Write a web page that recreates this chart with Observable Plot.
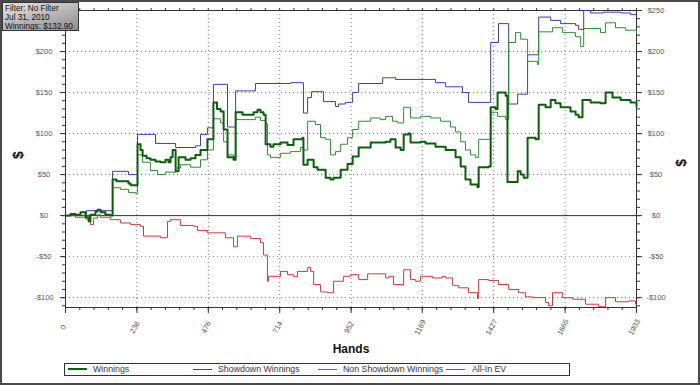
<!DOCTYPE html>
<html><head><meta charset="utf-8">
<script src="https://cdn.jsdelivr.net/npm/d3@7"></script>
<script src="https://cdn.jsdelivr.net/npm/@observablehq/plot@0.6"></script>
<style>
body{margin:0;background:#fff;}
#wrap{position:relative;width:700px;height:385px;overflow:hidden;font-family:"Liberation Sans",Arial,sans-serif;background:#fff;}
#wrap svg{position:absolute;left:0;top:0;}
#border{position:absolute;left:0;top:0;width:700px;height:385px;box-sizing:border-box;border:2px solid #4a4a4a;pointer-events:none;}
#info{position:absolute;left:2px;top:2px;width:77px;height:29px;box-sizing:border-box;border:1px solid #333;background:linear-gradient(165deg,#e6e6e6 0%,#b8b8b8 50%,#8c8c8c 100%);font-size:8.2px;line-height:9px;color:#111;padding:1px 0 0 2px;white-space:nowrap;overflow:hidden;}
#legend{position:absolute;left:64px;top:363px;width:506px;height:13px;box-sizing:border-box;border:1px solid #333;background:#fff;}
.item{position:absolute;top:0;height:11px;line-height:11px;font-size:8.8px;color:#333;white-space:nowrap;}
.sw{position:absolute;top:5px;width:19px;height:0;}
</style>
</head><body>
<div id="wrap"></div>
<script>
// ---- data (hands, $) ----
const xTickLabels = [0, 238, 476, 714, 952, 1189, 1427, 1665, 1903];
const yTickValues = [-100, -50, 0, 50, 100, 150, 200, 250];
const seriesNames = ["Winnings", "Showdown Winnings", "Non Showdown Winnings", "All-In EV"];
const seriesColors = ["#0b5e0b", "#3c3caa", "#cc3a3a", "#2f8a2f"];

const winHands = [0,17,33,50,67,77,83,100,107,117,133,150,157,170,183,210,217,240,250,257,270,283,300,317,333,343,350,357,367,377,400,417,433,450,473,493,505,517,527,540,560,567,590,627,640,650,660,667,683,693,717,740,760,790,793,807,827,840,867,883,893,917,940,957,977,1017,1067,1083,1100,1117,1127,1143,1150,1183,1200,1233,1267,1300,1317,1333,1350,1373,1377,1410,1417,1433,1440,1467,1473,1500,1507,1517,1527,1540,1567,1577,1600,1617,1633,1650,1683,1700,1710,1723,1750,1783,1800,1823,1850,1883,1903];
const winValues = [0,2,1,4,-2,-7,1,5,7,4,1,0,44,42,42,39,37,87,80,73,70,68,66,65,68,65,71,80,54,71,68,70,74,80,93,138,130,127,105,71,68,126,123,126,129,126,123,87,84,87,89,86,93,95,62,68,59,56,46,44,46,56,63,72,83,89,90,93,83,80,99,100,89,90,88,84,80,71,60,44,38,35,59,60,132,130,150,146,41,41,54,50,46,95,93,135,132,141,137,132,127,123,120,141,138,137,150,144,141,138,133];

const sdHands = [0,70,157,210,240,300,367,433,450,473,493,540,567,633,750,793,807,820,860,900,910,933,957,977,1057,1100,1233,1267,1323,1343,1417,1443,1477,1507,1540,1577,1617,1650,1700,1710,1727,1750,1793,1850,1883,1903];
const sdValues = [0,6,54,50,99,88,83,85,99,107,160,108,152,161,162,125,144,151,139,133,136,138,150,161,168,166,162,157,150,138,211,234,136,148,196,242,238,234,232,227,250,247,248,247,245,245];

const nsdHands = [0,33,67,83,93,107,117,150,183,217,250,260,317,340,350,383,427,440,473,507,533,560,573,617,650,660,673,677,717,740,760,773,807,817,827,850,873,893,927,950,977,1007,1067,1077,1093,1123,1127,1143,1150,1167,1183,1223,1257,1267,1290,1310,1343,1373,1377,1410,1443,1477,1510,1533,1557,1600,1610,1623,1657,1690,1733,1777,1793,1800,1833,1877,1900,1903];
const nsdValues = [0,-2,-4,-11,-3,1,-2,-5,-9,-11,-13,-25,-27,-7,-5,-12,-13,-18,-21,-21,-27,-38,-25,-28,-33,-48,-80,-74,-68,-72,-74,-68,-63,-68,-84,-93,-94,-80,-74,-72,-78,-71,-76,-74,-84,-85,-66,-66,-78,-80,-74,-76,-74,-76,-85,-88,-94,-101,-78,-79,-84,-90,-94,-99,-100,-106,-110,-94,-100,-102,-108,-111,-111,-100,-105,-104,-108,-109];

const evHands = [0,17,33,50,67,77,83,100,107,117,133,150,157,183,210,233,240,257,283,307,333,367,383,417,450,473,493,517,527,540,560,567,633,650,667,673,683,717,750,783,793,807,833,850,867,883,900,917,940,957,977,1017,1050,1067,1090,1107,1127,1143,1150,1183,1217,1250,1283,1300,1317,1333,1350,1367,1377,1410,1417,1440,1467,1477,1500,1517,1540,1573,1577,1623,1657,1700,1717,1727,1783,1800,1833,1867,1903];
const evValues = [0,2,1,4,-2,-7,1,5,7,4,1,0,34,32,28,27,74,65,55,50,53,58,62,59,68,80,118,113,90,74,72,117,120,116,112,74,71,76,78,83,80,115,111,95,93,74,78,87,95,105,115,119,117,121,115,113,132,132,119,121,119,115,108,102,90,80,74,71,93,93,126,121,117,211,223,215,188,184,224,229,223,218,206,228,223,235,229,226,222];

// ---- build tables ----
const toRows = (hs, vs) => hs.map((h, i) => ({h, v: vs[i]}));
const win = toRows(winHands, winValues);
const sd = toRows(sdHands, sdValues);
const nsd = toRows(nsdHands, nsdValues);
const ev = toRows(evHands, evValues);

const xMinor = d3.range(0, 41).map(i => i * 1903 / 40);
const yMinor = d3.range(-110, 251, 10);
const money = d => (d < 0 ? "-$" : "$") + Math.abs(d);
const noText = () => "";
const tickStroke = "#333";
// the left $250 label is hidden behind the info box in the reference
const yLeftLabels = yTickValues.filter(d => d < 250);

const chart = Plot.plot({
  width: 700, height: 385,
  marginLeft: 65, marginRight: 64, marginTop: 10, marginBottom: 78,
  x: {domain: [0, 1903]},
  y: {domain: [-112, 250]},
  style: {fontFamily: "Liberation Sans, Arial, sans-serif", fontSize: "7.5px", background: "transparent", color: "#555"},
  marks: [
    Plot.gridX(xTickLabels.slice(1, -1), {stroke: "#777", strokeOpacity: 1, strokeDasharray: "1,3"}),
    Plot.gridY([-100, -50, 50, 100, 150, 200], {stroke: "#777", strokeOpacity: 1, strokeDasharray: "1,3"}),
    Plot.ruleY([0], {stroke: "#333", strokeWidth: 1}),
    Plot.frame({stroke: "#333"}),
    // axes ticks
    Plot.axisX({ticks: xMinor, tickSize: 3, tickFormat: noText, label: null, stroke: tickStroke}),
    Plot.axisX({ticks: xTickLabels, tickSize: 6, tickFormat: noText, label: null, stroke: tickStroke}),
    Plot.axisX({anchor: "top", ticks: xMinor, tickSize: 3, tickFormat: noText, label: null, stroke: tickStroke}),
    Plot.axisY({anchor: "left", ticks: yMinor, tickSize: 3, tickFormat: noText, label: null, stroke: tickStroke}),
    Plot.axisY({anchor: "left", ticks: yTickValues, tickSize: 5, tickFormat: noText, label: null, stroke: tickStroke}),
    Plot.axisY({anchor: "right", ticks: yMinor, tickSize: 3, tickFormat: noText, label: null, stroke: tickStroke}),
    Plot.axisY({anchor: "right", ticks: yTickValues, tickSize: 5, tickFormat: noText, label: null, stroke: tickStroke}),
    // tick labels
    Plot.text(yLeftLabels, {y: d => d, text: money, frameAnchor: "left", dx: -21.5, textAnchor: "middle", fill: "#555", fontSize: 7.5}),
    Plot.text(yTickValues, {y: d => d, text: money, frameAnchor: "right", dx: 19.5, textAnchor: "middle", fill: "#555", fontSize: 7.5}),
    Plot.text(xTickLabels, {x: d => d, text: d => String(d), frameAnchor: "bottom", dy: 21, rotate: -62, textAnchor: "middle", fill: "#555", fontSize: 7.5}),
    // axis titles
    Plot.text(["$"], {frameAnchor: "left", dx: -47, rotate: -90, fontSize: 14, fontWeight: "bold", fill: "#111"}),
    Plot.text(["$"], {frameAnchor: "right", dx: 45, rotate: -90, fontSize: 14, fontWeight: "bold", fill: "#111"}),
    Plot.text(["Hands"], {frameAnchor: "bottom", dy: 45, fontSize: 12, fontWeight: "bold", fill: "#111"}),
    // series
    Plot.line(nsd, {x: "h", y: "v", stroke: seriesColors[2], strokeWidth: 1, curve: "step-after"}),
    Plot.line(sd, {x: "h", y: "v", stroke: seriesColors[1], strokeWidth: 1, curve: "step-after"}),
    Plot.line(ev, {x: "h", y: "v", stroke: seriesColors[3], strokeWidth: 1, curve: "step-after"}),
    Plot.line(win, {x: "h", y: "v", stroke: seriesColors[0], strokeWidth: 2, curve: "step-after"})
  ]
});

const wrap = document.getElementById("wrap");
wrap.appendChild(chart);

// info box
const info = document.createElement("div");
info.id = "info";
info.innerHTML = "Filter: No Filter<br>Jul 31, 2010<br>Winnings: $132.90";
wrap.appendChild(info);

// legend
const legend = document.createElement("div");
legend.id = "legend";
const swX = [3, 128, 253, 381];
const txX = [28, 153, 278, 407];
seriesNames.forEach((name, i) => {
  const sw = document.createElement("div");
  sw.className = "sw";
  sw.style.left = swX[i] + "px";
  sw.style.borderTop = (i === 0 ? 2 : 1) + "px solid " + seriesColors[i];
  if (i === 0) sw.style.top = "4px";
  legend.appendChild(sw);
  const t = document.createElement("div");
  t.className = "item";
  t.style.left = txX[i] + "px";
  t.textContent = name;
  legend.appendChild(t);
});
wrap.appendChild(legend);

const border = document.createElement("div");
border.id = "border";
wrap.appendChild(border);
</script>
</body></html>
